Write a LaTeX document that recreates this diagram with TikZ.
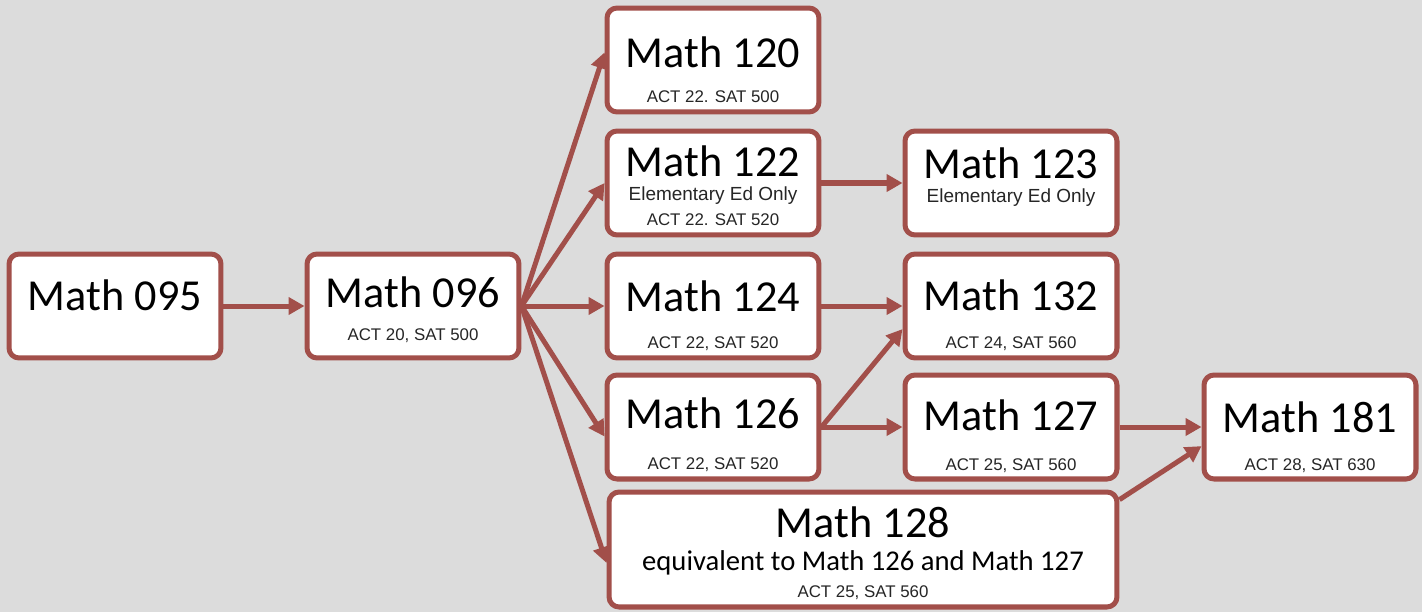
\documentclass[tikz,border=0pt]{standalone}
\usepackage{fontspec}
\usepackage{tikz}
\usetikzlibrary{arrows.meta}
\newfontfamily\calibri{Carlito}
\newfontfamily\arial{Liberation Sans}
\definecolor{brick}{RGB}{162,79,74}
\definecolor{backgray}{RGB}{220,220,220}

\begin{document}
\begin{tikzpicture}[x=0.02cm,y=-0.02cm,
    course/.style={draw=brick,line width=2.85pt,fill=white,rounded corners=0.2cm,
      minimum width=4.24cm,minimum height=2.08cm,inner sep=0},
    title/.style={anchor=base,inner sep=0,font=\calibri\fontsize{25.2}{30}\selectfont},
    eqv/.style={anchor=base,inner sep=0,font=\calibri\fontsize{16.3}{19}\selectfont},
    note/.style={anchor=base,inner sep=0,text=black!85,font=\arial\fontsize{10.8}{13}\selectfont},
    score/.style={anchor=base,inner sep=0,text=black!85,font=\arial\fontsize{9.6}{11}\selectfont},
    link/.style={draw=brick,line width=2.85pt,-{Triangle[length=0.32cm,width=0.34cm]}}]
  \useasboundingbox (0,0) rectangle (1422,612);
  \fill[backgray] (0,0) rectangle (1422,612);
  % Course boxes
  \node[course] (m095) at (115,306) {};
  \node[course] (m096) at (413,306) {};
  \node[course] (m120) at (713,60) {};
  \node[course] (m122) at (713,183) {};
  \node[course] (m124) at (713,306) {};
  \node[course] (m126) at (713,427) {};
  \node[course,minimum width=10.16cm,minimum height=2.3cm] (m128) at (863,549.5) {};
  \node[course] (m123) at (1011,183) {};
  \node[course] (m132) at (1011,306) {};
  \node[course] (m127) at (1011,427) {};
  \node[course] (m181) at (1310,427) {};
  % Labels
  \node[title] (t095) at (115,310) {Math 095};
  \node[title] (t096) at (413,307) {Math 096};
  \node[score] (s096) at (413,340) {ACT 20, SAT 500};
  \node[title] (t120) at (713,67) {Math 120};
  \node[score] (s120) at (713,102) {ACT 22. SAT 500};
  \node[title] (t122) at (713,176) {Math 122};
  \node[note] (n122) at (713,200) {Elementary Ed Only};
  \node[score] (s122) at (713,225) {ACT 22. SAT 520};
  \node[title] (t124) at (713,311) {Math 124};
  \node[score] (s124) at (713,348) {ACT 22, SAT 520};
  \node[title] (t126) at (713,428) {Math 126};
  \node[score] (s126) at (713,469) {ACT 22, SAT 520};
  \node[title] (t128) at (863,537) {Math 128};
  \node[eqv] (e128) at (863,570) {equivalent to Math 126 and Math 127};
  \node[score] (s128) at (863,597) {ACT 25, SAT 560};
  \node[title] (t123) at (1011,178) {Math 123};
  \node[note] (n123) at (1011,202) {Elementary Ed Only};
  \node[title] (t132) at (1011,310) {Math 132};
  \node[score] (s132) at (1011,348) {ACT 24, SAT 560};
  \node[title] (t127) at (1011,430) {Math 127};
  \node[score] (s127) at (1011,470) {ACT 25, SAT 560};
  \node[title] (t181) at (1310,432) {Math 181};
  \node[score] (s181) at (1310,470) {ACT 28, SAT 630};
  % Prerequisite arrows
  \draw[link] (m095.east) -- (m096.west);
  \draw[link] (m096.east) -- (m120.176);
  \draw[link] (m096.east) -- (m122.west);
  \draw[link] (m096.east) -- (m124.west);
  \draw[link] (m096.east) -- (m126.185);
  \draw[link] (m096.east) -- (m128.183);
  \draw[link] (m122.east) -- (m123.west);
  \draw[link] (m124.east) -- (m132.west);
  \draw[link] (m126.east) -- (m132.192);
  \draw[link] (m126.east) -- (m127.west);
  \draw[link] (m127.east) -- (m181.west);
  \draw[link] (m128.11) -- (m181.190);
\end{tikzpicture}
\end{document}
